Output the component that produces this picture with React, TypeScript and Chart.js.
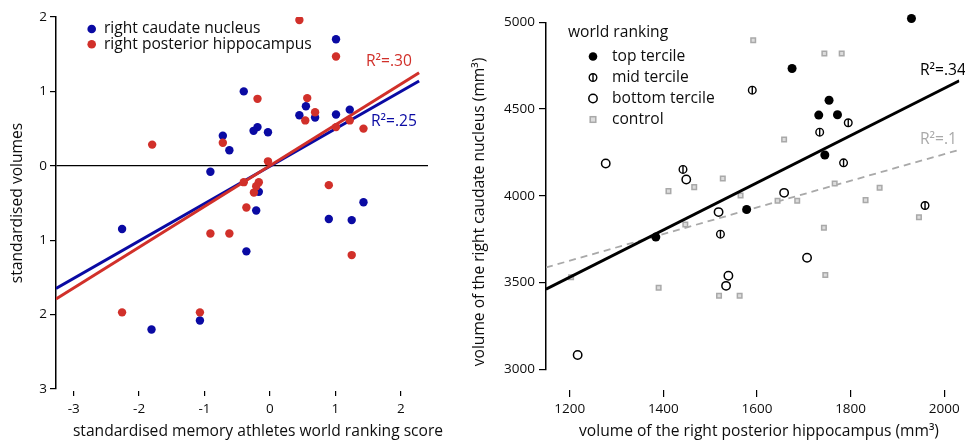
import React, { useEffect, useRef } from 'react';
import { Chart, registerables } from 'chart.js';

Chart.register(...registerables);

// ---------------- Left panel data ----------------
const LEFT_X_TICKS = [-3, -2, -1, 0, 1, 2];
const LEFT_Y_TICKS = [2, 1, 0, -1, -2, -3];

const CAUDATE_X = [1.01, -0.40, 0.55, 0.45, 0.69, 1.01, 1.22, -0.72, -0.19, -0.25, -0.03, -0.62, -0.91, -0.17, -0.21, 1.43, 0.90, 1.25, -2.26, -0.36, -1.81, -1.07];
const CAUDATE_Y = [1.70, 1.00, 0.80, 0.68, 0.65, 0.69, 0.755, 0.405, 0.52, 0.47, 0.45, 0.21, -0.08, -0.35, -0.60, -0.49, -0.715, -0.73, -0.85, -1.15, -2.20, -2.08];

const HIPPO_X = [0.45, 1.01, -0.19, 0.57, 0.69, 0.54, 1.01, 1.22, 1.43, -1.80, -0.72, -0.03, -0.40, -0.17, -0.21, -0.245, 0.90, -0.36, -0.91, -0.62, 1.25, -2.26, -1.07];
const HIPPO_Y = [1.96, 1.47, 0.90, 0.91, 0.72, 0.61, 0.52, 0.61, 0.50, 0.285, 0.31, 0.06, -0.22, -0.22, -0.275, -0.36, -0.26, -0.56, -0.91, -0.91, -1.20, -1.97, -1.97];

const CAUDATE_FIT_X = [-3.27, 2.28];
const CAUDATE_FIT_Y = [-1.65, 1.14];
const HIPPO_FIT_X = [-3.27, 2.28];
const HIPPO_FIT_Y = [-1.79, 1.25];

const LEFT_LEGEND = ['right caudate nucleus', 'right posterior hippocampus'];
const LEFT_R2 = ['R\u00B2=.30', 'R\u00B2=.25'];

// ---------------- Right panel data ----------------
const RIGHT_X_TICKS = [1200, 1400, 1600, 1800, 2000];
const RIGHT_Y_TICKS = [3000, 3500, 4000, 4500, 5000];

const TOP_X = [1930, 1675, 1754, 1732, 1772, 1745, 1578, 1384];
const TOP_Y = [5022, 4734, 4551, 4465, 4467, 4235, 3921, 3762];

const MID_X = [1590, 1795, 1734, 1785, 1442, 1959, 1522];
const MID_Y = [4609, 4421, 4367, 4190, 4152, 3944, 3779];

const BOTTOM_X = [1277, 1449, 1658, 1518, 1707, 1539, 1534, 1217];
const BOTTOM_Y = [4186, 4094, 4017, 3906, 3643, 3539, 3481, 3082];

const CONTROL_X = [1592, 1744, 1781, 1658, 1527, 1411, 1466, 1565, 1644, 1686, 1766, 1862, 1832, 1946, 1447, 1743, 1746, 1390, 1519, 1563, 1678, 1203];
const CONTROL_Y = [4897, 4820, 4820, 4325, 4100, 4027, 4050, 4002, 3971, 3971, 4071, 4046, 3975, 3877, 3835, 3816, 3543, 3470, 3424, 3424, 2958, 3531];

const ATHLETE_FIT_X = [1149.4, 2032.2];
const ATHLETE_FIT_Y = [3462, 4663];
const CONTROL_FIT_X = [1149.4, 2032.2];
const CONTROL_FIT_Y = [3587, 4265];

const RIGHT_LEGEND_TITLE = 'world ranking';
const RIGHT_LEGEND = ['top tercile', 'mid tercile', 'bottom tercile', 'control'];
const RIGHT_R2 = ['R\u00B2=.34', 'R\u00B2=.1'];

// ---------------- styles ----------------
const FONT = "'Open Sans', 'Noto Sans', sans-serif";
const BLUE = '#0a0aa3';
const RED = '#d1302a';
const GREY = '#a9a9a9';
const TEXT = '#0d0d0d';
const LABEL_SIZE = 15.6;
const SPLIT = 455; // left edge of the right canvas

Chart.defaults.font.family = FONT;

const pts = (xs: number[], ys: number[]) => xs.map((x, i) => ({ x, y: ys[i] }));

type TextItem = { text: string; x: number; y: number; color?: string; size?: number; rotate?: boolean; align?: CanvasTextAlign };
type Marker = { kind: 'dot' | 'open' | 'mid' | 'square'; x: number; y: number; color?: string };

function drawMarker(ctx: CanvasRenderingContext2D, m: Marker) {
  ctx.save();
  if (m.kind === 'dot') {
    ctx.fillStyle = m.color || '#000';
    ctx.beginPath();
    ctx.arc(m.x, m.y, 4.3, 0, Math.PI * 2);
    ctx.fill();
  } else if (m.kind === 'open') {
    ctx.strokeStyle = '#000';
    ctx.lineWidth = 1.5;
    ctx.beginPath();
    ctx.arc(m.x, m.y, 4.2, 0, Math.PI * 2);
    ctx.stroke();
  } else if (m.kind === 'mid') {
    ctx.strokeStyle = '#000';
    ctx.lineWidth = 1.4;
    ctx.beginPath();
    ctx.arc(m.x, m.y, 3.8, 0, Math.PI * 2);
    ctx.stroke();
    ctx.beginPath();
    ctx.moveTo(m.x, m.y - 3.8);
    ctx.lineTo(m.x, m.y + 3.8);
    ctx.stroke();
  } else {
    ctx.fillStyle = '#dcdcdc';
    ctx.strokeStyle = GREY;
    ctx.lineWidth = 1.5;
    ctx.fillRect(m.x - 2.8, m.y - 2.8, 5.6, 5.6);
    ctx.strokeRect(m.x - 2.8, m.y - 2.8, 5.6, 5.6);
  }
  ctx.restore();
}

function overlayPlugin(id: string, offsetX: number, texts: TextItem[], markers: Marker[]) {
  return {
    id,
    afterDraw(chart: any) {
      const ctx: CanvasRenderingContext2D = chart.ctx;
      markers.forEach((m) => drawMarker(ctx, { ...m, x: m.x - offsetX }));
      texts.forEach((t) => {
        ctx.save();
        ctx.translate(t.x - offsetX, t.y);
        if (t.rotate) ctx.rotate(-Math.PI / 2);
        ctx.font = `${t.size || LABEL_SIZE}px ${FONT}`;
        ctx.fillStyle = t.color || TEXT;
        ctx.textAlign = t.align || 'left';
        ctx.textBaseline = 'middle';
        ctx.fillText(t.text, 0, 0);
        ctx.restore();
      });
    },
  };
}

function LeftChart() {
  const ref = useRef<HTMLCanvasElement>(null);
  useEffect(() => {
    if (!ref.current) return;
    const OFF = 0;
    const chart = new Chart(ref.current, {
      type: 'scatter',
      data: {
        datasets: [
          { data: pts(CAUDATE_FIT_X, CAUDATE_FIT_Y), showLine: true, borderColor: BLUE, borderWidth: 3, pointRadius: 0, order: 4 },
          { data: pts(HIPPO_FIT_X, HIPPO_FIT_Y), showLine: true, borderColor: RED, borderWidth: 3, pointRadius: 0, order: 3 },
          { data: pts(CAUDATE_X, CAUDATE_Y), backgroundColor: BLUE, borderColor: BLUE, borderWidth: 0, pointRadius: 4.2, order: 2 },
          { data: pts(HIPPO_X, HIPPO_Y), backgroundColor: RED, borderColor: RED, borderWidth: 0, pointRadius: 4.2, order: 1 },
        ],
      },
      options: {
        responsive: false,
        animation: false,
        events: [],
        layout: { padding: { top: 17, right: SPLIT - 428, left: 0, bottom: 0 } },
        plugins: { legend: { display: false }, tooltip: { enabled: false } },
        scales: {
          x: {
            type: 'linear',
            min: -3.27,
            max: 2.416,
            afterBuildTicks: (s: any) => { s.ticks = LEFT_X_TICKS.map((v) => ({ value: v })); },
            afterFit: (s: any) => { s.height = 53; s.paddingLeft = 0; s.paddingRight = 0; },
            border: { display: false },
            grid: { drawOnChartArea: false, color: '#000', tickColor: '#000', tickLength: 7, tickBorderDash: [0, 2, 5, 100], lineWidth: 1.2 },
            ticks: { padding: 5, color: TEXT, font: { size: 13.5 }, autoSkip: false, maxRotation: 0, callback: (v: any) => String(v) },
          },
          y: {
            type: 'linear',
            min: -3,
            max: 2,
            afterBuildTicks: (s: any) => { s.ticks = LEFT_Y_TICKS.map((v) => ({ value: v })); },
            afterFit: (s: any) => { s.width = 56; s.paddingTop = 0; s.paddingBottom = 0; },
            border: { display: true, color: '#000', width: 1.5 },
            grid: {
              drawOnChartArea: true,
              color: (c: any) => (c.tick && c.tick.value === 0 ? '#000' : 'rgba(0,0,0,0)'),
              lineWidth: 1.2,
              tickColor: '#000',
              tickLength: 6,
            },
            ticks: { padding: 3, color: TEXT, font: { size: 13.5 }, callback: (v: any) => String(Math.abs(Number(v))) },
          },
        },
      },
      plugins: [
        overlayPlugin('leftOverlay', OFF, [
          { text: LEFT_LEGEND[0], x: 104, y: 29 },
          { text: LEFT_LEGEND[1], x: 104, y: 44.5 },
          { text: LEFT_R2[0], x: 366, y: 62, color: RED },
          { text: LEFT_R2[1], x: 371, y: 122, color: BLUE },
          { text: 'standardised volumes', x: 18, y: 203, rotate: true, align: 'center' },
          { text: 'standardised memory athletes world ranking score', x: 258, y: 432, align: 'center' },
        ], [
          { kind: 'dot', x: 91.7, y: 29, color: BLUE },
          { kind: 'dot', x: 91.7, y: 44.3, color: RED },
        ]),
      ],
    } as any);
    return () => chart.destroy();
  }, []);
  return <canvas ref={ref} width={SPLIT} height={442} style={{ position: 'absolute', left: 0, top: 0 }} />;
}

function RightChart() {
  const ref = useRef<HTMLCanvasElement>(null);
  useEffect(() => {
    if (!ref.current) return;
    const OFF = SPLIT;
    const chart = new Chart(ref.current, {
      type: 'scatter',
      data: {
        datasets: [
          { data: pts(CONTROL_FIT_X, CONTROL_FIT_Y), showLine: true, borderColor: GREY, borderWidth: 1.8, borderDash: [7, 5], pointRadius: 0, order: 8 },
          { data: pts(CONTROL_X, CONTROL_Y), pointStyle: 'rect', pointRadius: 3.2, backgroundColor: '#dcdcdc', borderColor: GREY, borderWidth: 1.5, clip: false, order: 7 },
          { data: pts(ATHLETE_FIT_X, ATHLETE_FIT_Y), showLine: true, borderColor: '#000', borderWidth: 3, pointRadius: 0, order: 6 },
          { data: pts(BOTTOM_X, BOTTOM_Y), pointStyle: 'circle', pointRadius: 4.2, backgroundColor: '#fff', borderColor: '#000', borderWidth: 1.5, clip: false, order: 5 },
          { data: pts(MID_X, MID_Y), pointStyle: 'circle', pointRadius: 3.8, backgroundColor: '#fff', borderColor: '#000', borderWidth: 1.4, clip: false, order: 4 },
          { data: pts(MID_X, MID_Y), pointStyle: 'line', pointRotation: 90, pointRadius: 3.8, borderColor: '#000', borderWidth: 1.4, clip: false, order: 3 },
          { data: pts(TOP_X, TOP_Y), pointStyle: 'circle', pointRadius: 4.5, backgroundColor: '#000', borderColor: '#000', borderWidth: 0, clip: false, order: 2 },
        ],
      },
      options: {
        responsive: false,
        animation: false,
        events: [],
        layout: { padding: { top: 22.3, right: 0, left: 0, bottom: 0 } },
        plugins: { legend: { display: false }, tooltip: { enabled: false } },
        scales: {
          x: {
            type: 'linear',
            min: 1149.4,
            max: 2032.2,
            afterBuildTicks: (s: any) => { s.ticks = RIGHT_X_TICKS.map((v) => ({ value: v })); },
            afterFit: (s: any) => { s.height = 72.7; s.paddingLeft = 0; s.paddingRight = 0; },
            border: { display: false },
            grid: { drawOnChartArea: false, color: '#000', tickColor: '#000', tickLength: 28, tickBorderDash: [0, 21, 7, 100], lineWidth: 1.2 },
            ticks: { padding: 4, color: TEXT, font: { size: 13.5 }, autoSkip: false, maxRotation: 0, callback: (v: any) => String(v) },
          },
          y: {
            type: 'linear',
            min: 3000,
            max: 5000,
            afterBuildTicks: (s: any) => { s.ticks = RIGHT_Y_TICKS.map((v) => ({ value: v })); },
            afterFit: (s: any) => { s.width = 546 - SPLIT; s.paddingTop = 0; s.paddingBottom = 0; },
            border: { display: true, color: '#000', width: 1.5 },
            grid: { drawOnChartArea: false, color: '#000', tickColor: '#000', tickLength: 7, lineWidth: 1.2 },
            ticks: { padding: 4, color: TEXT, font: { size: 13.5 }, callback: (v: any) => String(v) },
          },
        },
      },
      plugins: [
        overlayPlugin('rightOverlay', OFF, [
          { text: RIGHT_LEGEND_TITLE, x: 568, y: 32.5 },
          { text: RIGHT_LEGEND[0], x: 612, y: 56.5 },
          { text: RIGHT_LEGEND[1], x: 612, y: 77.5 },
          { text: RIGHT_LEGEND[2], x: 612, y: 98.5 },
          { text: RIGHT_LEGEND[3], x: 612, y: 119.5 },
          { text: RIGHT_R2[0], x: 920, y: 71, color: '#000' },
          { text: RIGHT_R2[1], x: 920, y: 140, color: GREY },
          { text: 'volume of the right caudate nucleus (mm\u00B3)', x: 480, y: 212, rotate: true, align: 'center' },
          { text: 'volume of the right posterior hippocampus (mm\u00B3)', x: 759, y: 432, align: 'center' },
        ], [
          { kind: 'dot', x: 593, y: 56.5 },
          { kind: 'mid', x: 593, y: 77.5 },
          { kind: 'open', x: 593, y: 98.5 },
          { kind: 'square', x: 593, y: 119.5 },
        ]),
      ],
    } as any);
    return () => chart.destroy();
  }, []);
  return <canvas ref={ref} width={965 - SPLIT} height={442} style={{ position: 'absolute', left: SPLIT, top: 0 }} />;
}

export default function App() {
  return (
    <div style={{ position: 'fixed', left: 0, top: 0, width: 965, height: 442, background: '#fff', overflow: 'hidden' }}>
      <LeftChart />
      <RightChart />
    </div>
  );
}
